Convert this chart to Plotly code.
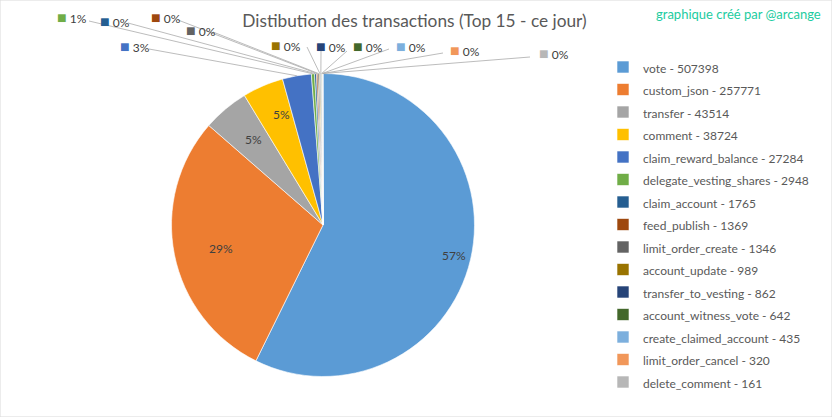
import math
import plotly.graph_objects as go

W, H = 832, 417

# data
names = ["vote", "custom_json", "transfer", "comment", "claim_reward_balance",
         "delegate_vesting_shares", "claim_account", "feed_publish",
         "limit_order_create", "account_update", "transfer_to_vesting",
         "account_witness_vote", "create_claimed_account", "limit_order_cancel",
         "delete_comment"]
values = [507398, 257771, 43514, 38724, 27284, 2948, 1765, 1369, 1346,
          989, 862, 642, 435, 320, 161]
pct_text = ["57%", "29%", "5%", "5%", "3%", "1%", "0%", "0%", "0%",
            "0%", "0%", "0%", "0%", "0%", "0%"]

colors = ["#5B9BD5", "#ED7D31", "#A5A5A5", "#FFC000", "#4472C4", "#70AD47",
          "#255E91", "#9E480E", "#636363", "#997300", "#264478", "#43682B",
          "#7CAFDD", "#F1975A", "#B7B7B7"]

# pie geometry (pixels)
CX, CY, R = 323, 225, 151.5

# inside labels: radial fraction for the first four slices
inside_r = [0.89, 0.78, 0.82, 0.86]
# outside labels: (left x, centre y) of label, and leader line start point
outside_pos = [(118, 45), (55, 17), (98, 20), (149, 17), (184, 29),
               (269, 44), (314, 45), (351, 45), (394, 45), (448, 49), (537, 53)]
line_start = [(149, 49), (89, 21), (128, 23), (178, 20), (213, 32),
              (307, 47), (321, 51), (347, 51), (389, 49), (443, 53), (530, 57)]

total = sum(values)
mids = []
acc = 0
for v in values:
    mids.append((acc + v / 2) / total * 2 * math.pi)
    acc += v


def px(x, y):
    return x / W, 1 - y / H


labels = [f'<span style="font-size:12px">{n} - {v}</span>' for n, v in zip(names, values)]

fig = go.Figure(go.Pie(
    labels=labels,
    values=values,
    sort=False,
    direction="clockwise",
    rotation=0,
    textinfo="none",
    hoverinfo="label+percent",
    marker=dict(colors=colors, line=dict(color="white", width=0.6)),
    domain=dict(x=[(CX - R) / W, (CX + R) / W], y=[1 - (CY + R) / H, 1 - (CY - R) / H]),
))

annotations = []
shapes = []
for i in range(4):
    r = R * inside_r[i]
    x, y = px(CX + r * math.sin(mids[i]), CY - r * math.cos(mids[i]))
    annotations.append(dict(x=x, y=y, xref="paper", yref="paper", text=pct_text[i],
                            showarrow=False, font=dict(size=12, color="#404040")))

for k, i in enumerate(range(4, len(values))):
    lx, ly = outside_pos[k]
    x, y = px(lx, ly)
    annotations.append(dict(
        x=x, y=y, xref="paper", yref="paper", xanchor="left", yanchor="middle",
        text=f'<span style="color:{colors[i]};font-size:16px">■</span> {pct_text[i]}',
        showarrow=False, font=dict(size=12, color="#404040")))
    tx = CX + R * math.sin(mids[i])
    ty = CY - R * math.cos(mids[i])
    sx, sy = line_start[k]
    x0, y0 = px(sx, sy)
    x1, y1 = px(tx, ty)
    shapes.append(dict(type="line", xref="paper", yref="paper", x0=x0, y0=y0, x1=x1, y1=y1,
                       line=dict(color="#A6A6A6", width=0.75)))

annotations.append(dict(x=823 / W, y=1 - 14 / H, xref="paper", yref="paper",
                        xanchor="right", yanchor="middle", showarrow=False,
                        text="graphique créé par @arcange",
                        font=dict(size=13, color="#22CCA0")))

shapes.append(dict(type="rect", xref="paper", yref="paper", x0=0, y0=0, x1=1, y1=1,
                   line=dict(color="#D9D9D9", width=1)))

fig.update_layout(
    width=W, height=H,
    margin=dict(l=0, r=0, t=0, b=0, autoexpand=False),
    paper_bgcolor="white",
    font=dict(family="Lato, sans-serif", color="#595959"),
    title=dict(text="Distibution des transactions (Top 15 - ce jour)",
               x=414.5 / W, y=1 - 21 / H, xanchor="center", yanchor="middle",
               font=dict(size=17.3, color="#595959")),
    showlegend=True,
    legend=dict(x=603 / W, y=1 - 50.75 / H, xanchor="left", yanchor="top",
                font=dict(size=15, color="#595959"), bgcolor="rgba(0,0,0,0)"),
    annotations=annotations,
    shapes=shapes,
)

fig.write_html("out.html", config={"displayModeBar": False},
               post_script="document.body.style.margin = '0';")
